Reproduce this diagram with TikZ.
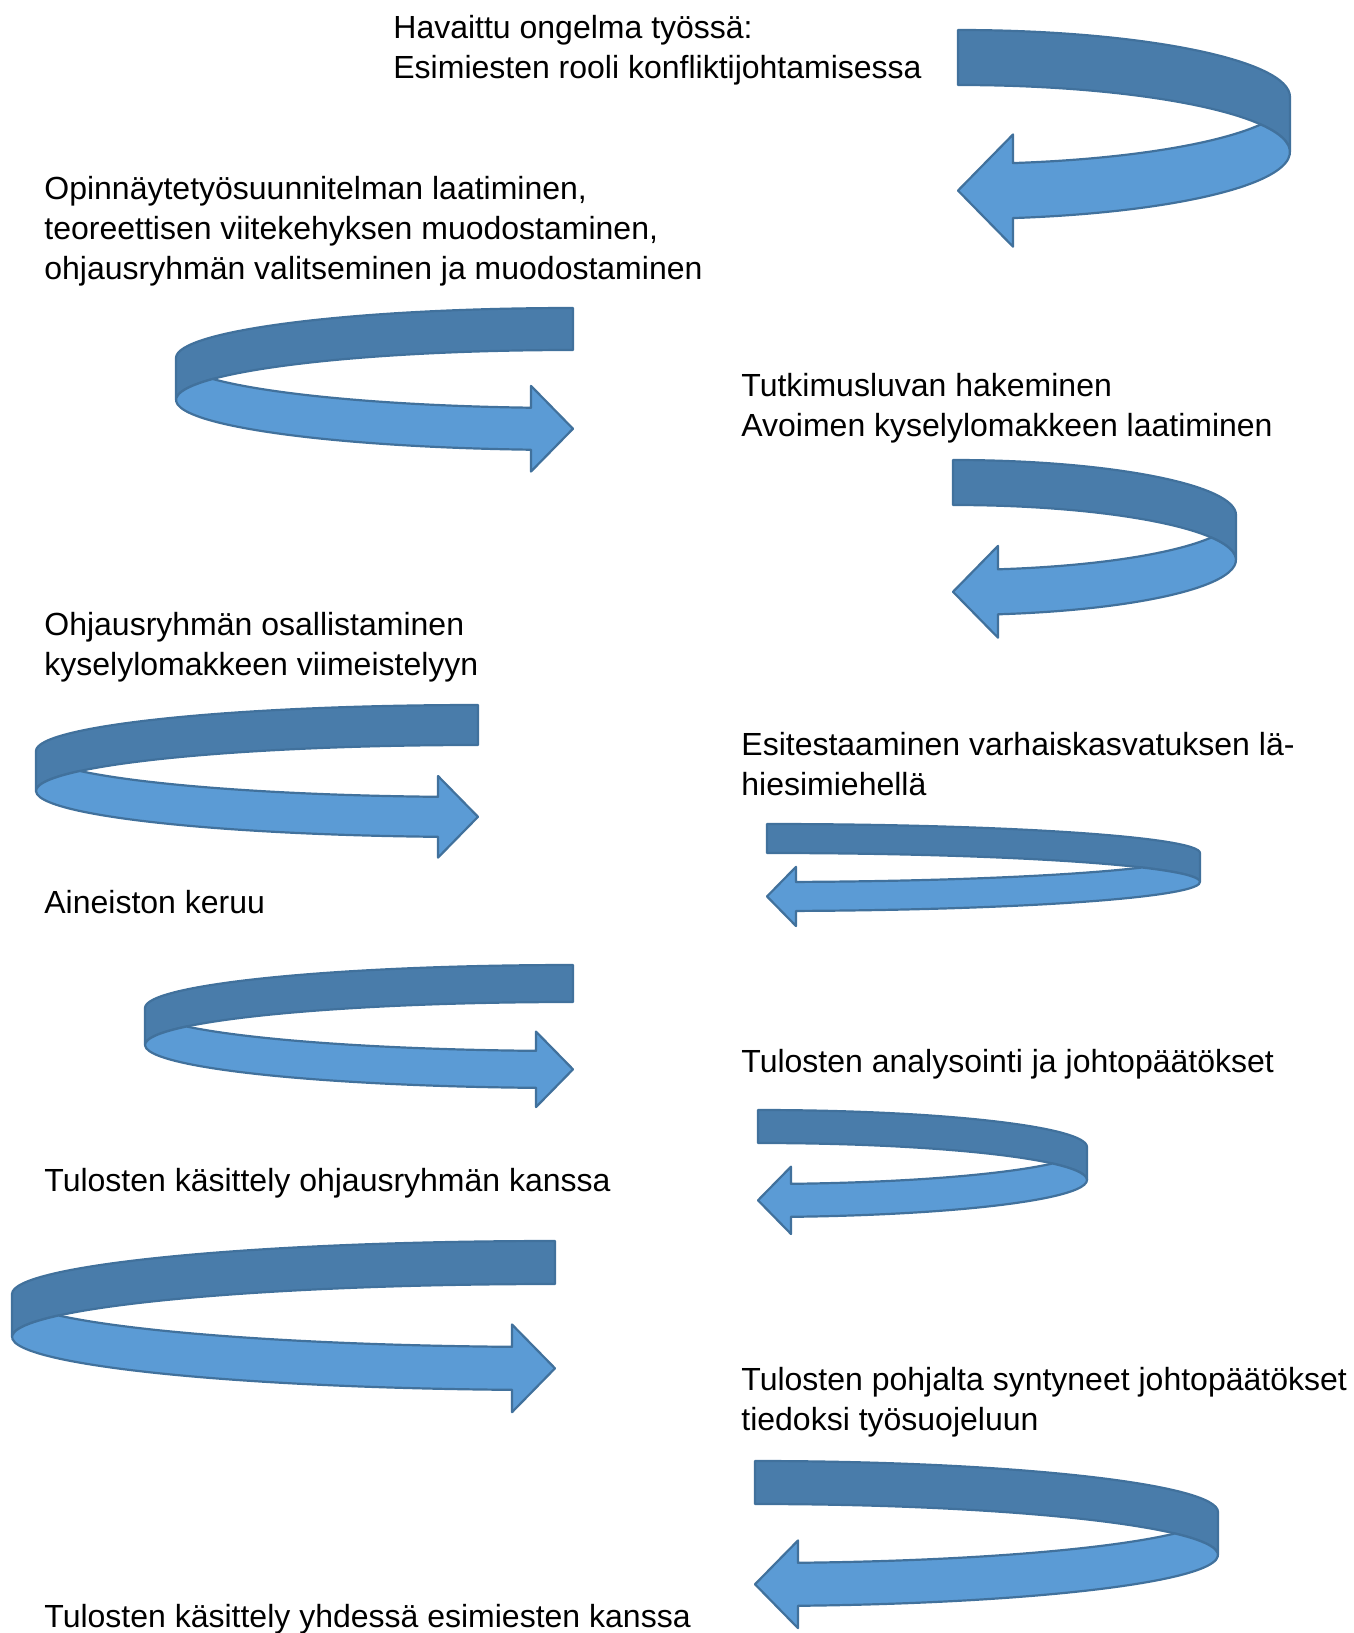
\documentclass[tikz,border=0pt]{standalone}
\usepackage{fontspec}
\setmainfont{Liberation Sans}
\definecolor{bandfront}{RGB}{91,155,213}
\definecolor{bandback}{RGB}{73,124,170}
\definecolor{bandline}{RGB}{65,113,156}
% one turning arrow: tail x, top of turn y, x radius, y radius, band width, side (1 right, -1 left)
\newcommand{\turnarrow}[6]{%
  \begin{scope}[shift={(#1,#2)}, xscale=#6]
    \pgfmathsetmacro{\ta}{asin(#5/(2*#4))}
    \pgfmathsetmacro{\tb}{acos(#5/#3)}
    \pgfmathsetmacro{\yb}{#4*sin(\tb)}
    \pgfmathsetmacro{\barb}{0.52*#5}
    \filldraw[backband] (0,-#4) arc[start angle=-90, end angle=0, x radius=#3, y radius=#4]
      -- (#3,#5) arc[start angle=0, end angle=-90, x radius=#3, y radius=#4] -- cycle;
    \filldraw[frontband] ({#3*cos(\ta)},{#5/2})
      arc[start angle=-\ta, end angle=\tb, x radius=#3, y radius=#4]
      -- ++(0,\barb) -- (0,{\yb+#5/2}) -- (#5,{\yb-\barb}) -- (#5,\yb)
      arc[start angle=\tb, end angle=\ta, x radius=#3, y radius=#4] -- cycle;
  \end{scope}}

\begin{document}
\begin{tikzpicture}[x=0.5pt, y=-0.5pt,
    steplabel/.style={anchor=base west, inner sep=0pt, align=left,
      font=\fontsize{16}{20}\selectfont},
    backband/.style={fill=bandback, draw=bandline, line width=1.1pt, line join=round},
    frontband/.style={fill=bandfront, draw=bandline, line width=1.1pt, line join=round}]
  \useasboundingbox (0,0) rectangle (1354,1633);

  % labels (placed at the baseline of their last line)
  \node[steplabel] (havaittu) at (393,78) {Havaittu ongelma työssä:\\Esimiesten rooli konfliktijohtamisessa};
  \node[steplabel] (suunnitelma) at (44,279) {Opinnäytetyösuunnitelman laatiminen,\\teoreettisen viitekehyksen muodostaminen,\\ohjausryhmän valitseminen ja muodostaminen};
  \node[steplabel] (lupa) at (741,436) {Tutkimusluvan hakeminen\\Avoimen kyselylomakkeen laatiminen};
  \node[steplabel] (osallistaminen) at (44,675) {Ohjausryhmän osallistaminen\\kyselylomakkeen viimeistelyyn};
  \node[steplabel] (esitestaus) at (741,795) {Esitestaaminen varhaiskasvatuksen lä-\\hiesimiehellä};
  \node[steplabel] (keruu) at (44,913) {Aineiston keruu};
  \node[steplabel] (analyysi) at (741,1072) {Tulosten analysointi ja johtopäätökset};
  \node[steplabel] (ohjausryhma) at (44,1191) {Tulosten käsittely ohjausryhmän kanssa};
  \node[steplabel] (tyosuojelu) at (741,1430) {Tulosten pohjalta syntyneet johtopäätökset\\tiedoksi työsuojeluun};
  \node[steplabel] (esimiehet) at (44,1627) {Tulosten käsittely yhdessä esimiesten kanssa};

  % arrows
  \turnarrow{958}{97}{332}{67}{55}{1}
  \turnarrow{573}{358}{397}{50}{42}{-1}
  \turnarrow{953}{515}{283}{55}{45}{1}
  \turnarrow{478}{751}{442}{46}{40}{-1}
  \turnarrow{767}{853}{433}{29}{29}{1}
  \turnarrow{573}{1008}{428}{43}{37}{-1}
  \turnarrow{758}{1147}{329}{37}{33}{1}
  \turnarrow{555}{1294}{543}{53}{43}{-1}
  \turnarrow{755}{1512}{463}{51}{43}{1}
\end{tikzpicture}
\end{document}
